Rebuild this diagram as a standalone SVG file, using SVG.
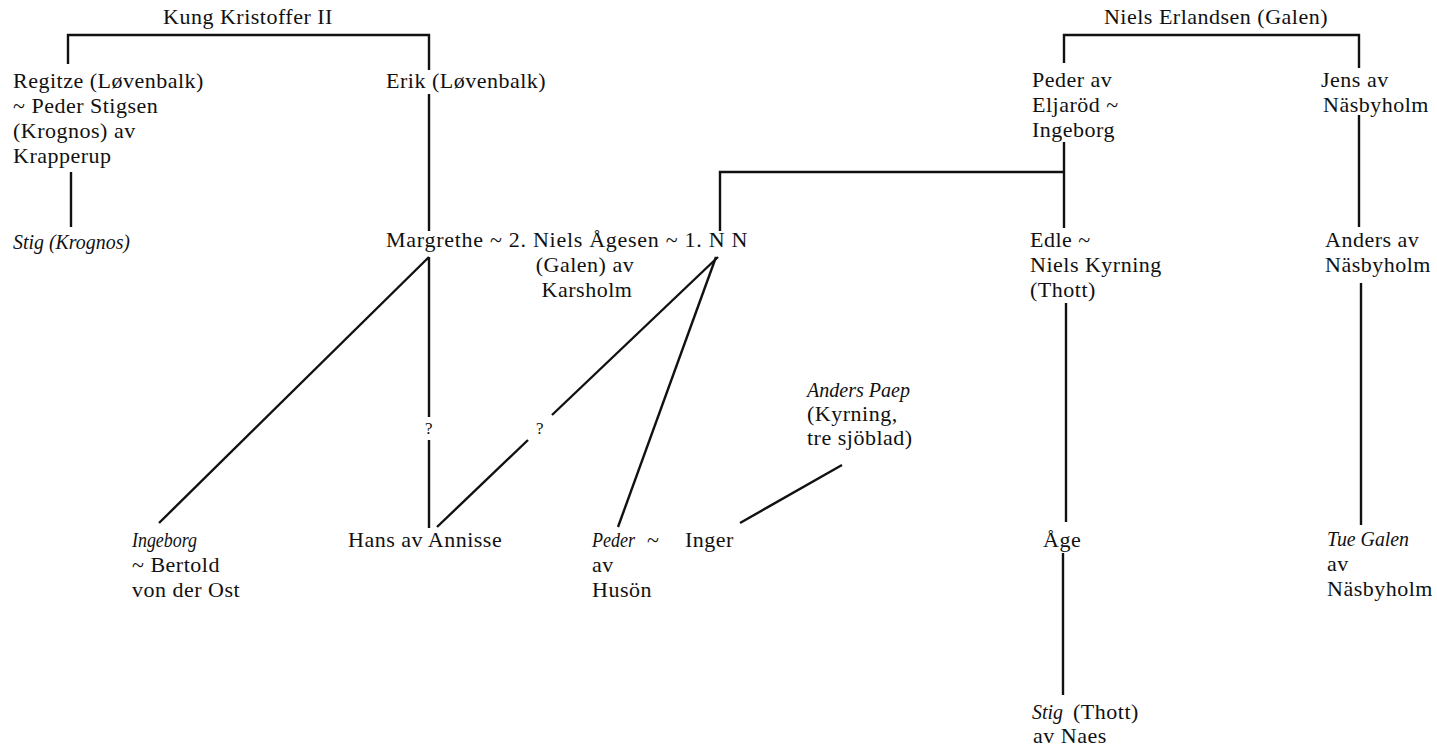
<svg xmlns="http://www.w3.org/2000/svg" width="1437" height="748" viewBox="0 0 1437 748">
<style>
text{font-family:"Liberation Serif","Times New Roman",serif;font-size:22px;fill:#111;letter-spacing:0.5px}
.i{font-style:italic;letter-spacing:0}
.m{text-anchor:middle}
.q{font-size:17px}
#connectors line,#connectors polyline{stroke:#111;stroke-width:2.4;fill:none}
</style>
<rect width="1437" height="748" fill="#fff"/>
<g id="connectors">
<polyline points="68,64 68,35 429,35 429,70"/>
<line x1="429" y1="94" x2="429" y2="231"/>
<line x1="71" y1="172" x2="71" y2="227"/>
<line x1="429" y1="257" x2="159" y2="523"/>
<line x1="429" y1="257" x2="429" y2="417"/>
<line x1="429" y1="440" x2="429" y2="528"/>
<line x1="718" y1="257" x2="552" y2="415"/>
<line x1="528" y1="440" x2="437" y2="527"/>
<line x1="716" y1="257" x2="618" y2="527"/>
<line x1="740" y1="523" x2="842" y2="465"/>
<polyline points="1064,63 1064,35 1359,35 1359,68"/>
<line x1="1064" y1="142" x2="1064" y2="228"/>
<polyline points="720,231 720,172 1064,172"/>
<line x1="1359" y1="115" x2="1359" y2="227"/>
<line x1="1066" y1="303" x2="1066" y2="522"/>
<line x1="1361" y1="283" x2="1361" y2="525"/>
<line x1="1063" y1="553" x2="1063" y2="695"/>
</g>
<g id="kristoffer"><text class="m" x="248" y="24">Kung Kristoffer II</text></g>
<g id="regitze">
<text x="13" y="88">Regitze (Løvenbalk)</text>
<text x="13" y="113">~ Peder Stigsen</text>
<text x="13" y="138">(Krognos) av</text>
<text x="13" y="163">Krapperup</text>
</g>
<g id="stig-krognos"><text class="i" x="13" y="249" textLength="117" lengthAdjust="spacingAndGlyphs">Stig (Krognos)</text></g>
<g id="erik"><text x="386" y="88">Erik (Løvenbalk)</text></g>
<g id="margrethe">
<text x="386" y="247" textLength="362" lengthAdjust="spacing">Margrethe ~ 2. Niels Ågesen ~ 1. N N</text>
<text class="m" x="585" y="272">(Galen) av</text>
<text class="m" x="587" y="297">Karsholm</text>
</g>
<g id="q1"><text class="q m" x="429" y="434">?</text></g>
<g id="q2"><text class="q m" x="540" y="434">?</text></g>
<g id="ingeborg">
<text class="i" x="132" y="547" textLength="65" lengthAdjust="spacingAndGlyphs">Ingeborg</text>
<text x="132" y="572">~ Bertold</text>
<text x="132" y="597">von der Ost</text>
</g>
<g id="hans"><text x="348" y="547">Hans av Annisse</text></g>
<g id="peder-huson">
<text class="i" x="592" y="547" textLength="43" lengthAdjust="spacingAndGlyphs">Peder</text>
<text x="647" y="547">~</text>
<text x="592" y="572">av</text>
<text x="592" y="597">Husön</text>
</g>
<g id="inger"><text x="685" y="547">Inger</text></g>
<g id="anders-paep">
<text class="i" x="807" y="397" textLength="103" lengthAdjust="spacingAndGlyphs">Anders Paep</text>
<text x="807" y="421">(Kyrning,</text>
<text x="807" y="445">tre sjöblad)</text>
</g>
<g id="niels-erlandsen"><text class="m" x="1216" y="24">Niels Erlandsen (Galen)</text></g>
<g id="peder-eljarod">
<text x="1032" y="87">Peder av</text>
<text x="1032" y="112">Eljaröd ~</text>
<text x="1032" y="137">Ingeborg</text>
</g>
<g id="jens">
<text x="1321" y="87">Jens av</text>
<text x="1323" y="112">Näsbyholm</text>
</g>
<g id="edle">
<text x="1030" y="247">Edle ~</text>
<text x="1030" y="272">Niels Kyrning</text>
<text x="1030" y="297">(Thott)</text>
</g>
<g id="anders-nasbyholm">
<text x="1325" y="247">Anders av</text>
<text x="1325" y="272">Näsbyholm</text>
</g>
<g id="age"><text x="1043" y="547">Åge</text></g>
<g id="tue">
<text class="i" x="1327" y="546" textLength="82" lengthAdjust="spacingAndGlyphs">Tue Galen</text>
<text x="1327" y="571">av</text>
<text x="1327" y="596">Näsbyholm</text>
</g>
<g id="stig-thott">
<text class="i" x="1032" y="719" textLength="31" lengthAdjust="spacingAndGlyphs">Stig</text>
<text x="1073" y="719">(Thott)</text>
<text x="1033" y="743">av Naes</text>
</g>
</svg>
